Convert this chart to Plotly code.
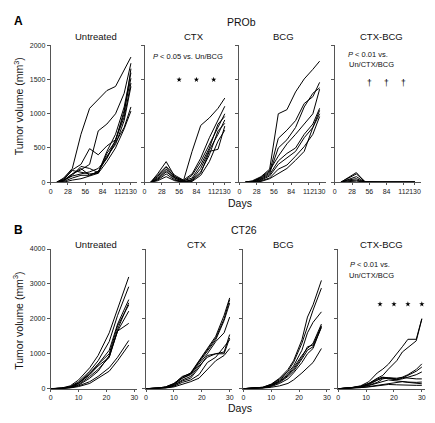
import plotly.graph_objects as go

W, H = 435, 423
FONT = "Liberation Sans, Arial, sans-serif"

# ---------------- Panel A (PROb) ----------------
days_A = [10, 21, 35, 49, 63, 77, 91, 105, 119, 130]
untreated_A = [
    [0, 60, 200, 700, 1080, 1210, 1340, 1400, 1650, 1830],
    [0, 30, 120, 180, 260, 750, 850, 1000, 1300, 1740],
    [0, 50, 180, 260, 490, 400, 530, 620, 1000, 1660],
    [0, 20, 100, 230, 200, 140, 450, 700, 1100, 1600],
    [0, 40, 170, 150, 120, 130, 420, 600, 1050, 1520],
    [0, 10, 60, 100, 100, 160, 350, 620, 950, 1450],
    [0, 20, 120, 200, 100, 150, 380, 550, 900, 1400],
    [0, 30, 90, 120, 150, 200, 350, 580, 800, 1100],
    [0, 0, 30, 50, 90, 130, 300, 500, 780, 1040],
]
ctx_A = [
    [0, 120, 300, 80, 20, 450, 830, 940, 1080, 1230],
    [0, 100, 230, 100, 30, 120, 350, 650, 900, 1110],
    [0, 80, 220, 60, 10, 100, 300, 550, 780, 1000],
    [0, 60, 190, 80, 20, 60, 250, 500, 850, 960],
    [0, 50, 170, 40, 0, 40, 200, 470, 700, 910],
    [0, 40, 150, 60, 10, 30, 150, 400, 750, 860],
    [0, 30, 120, 30, 0, 20, 130, 450, 480, 820],
    [0, 20, 80, 20, 0, 10, 100, 300, 600, 760],
]
bcg_A = [
    [0, 20, 80, 190, 1000, 1060, 1320, 1510, 1650, 1770],
    [0, 10, 60, 150, 640, 760, 900, 1150, 1250, 1460],
    [0, 10, 50, 130, 500, 620, 800, 1100, 1300, 1380],
    [0, 10, 70, 170, 380, 560, 700, 850, 1000, 1360],
    [0, 0, 40, 110, 310, 420, 500, 700, 850, 1080],
    [0, 0, 30, 90, 260, 350, 450, 650, 800, 1000],
    [0, 0, 20, 60, 190, 250, 380, 520, 700, 960],
    [0, 0, 10, 50, 120, 200, 320, 450, 800, 1050],
]
ctxbcg_A = [
    [0, 60, 140, 0, 0, 0, 0, 0, 0, 0],
    [0, 50, 120, 10, 0, 0, 0, 0, 0, 0],
    [0, 40, 80, 0, 0, 0, 0, 0, 0, 0],
    [0, 30, 50, 0, 0, 0, 0, 0, 0, 0],
    [0, 20, 30, 0, 0, 0, 0, 0, 0, 0],
    [0, 10, 15, 0, 0, 0, 0, 0, 0, 0],
]
xticks_A = [0, 28, 56, 84, 112, 130]
yticks_A = [0, 500, 1000, 1500, 2000]
star_days_A = [56, 84, 112]
star_level_A = 1500
dagger_level_A = 1450

# ---------------- Panel B (CT26) ----------------
days_B_un = [0, 4, 7, 10, 14, 17, 21, 24, 28]
untreated_B = [
    [0, 20, 80, 250, 600, 950, 1600, 2300, 3200],
    [0, 15, 60, 200, 500, 800, 1350, 2100, 2920],
    [0, 10, 50, 170, 450, 700, 1100, 1850, 2550],
    [0, 10, 40, 150, 400, 650, 900, 1700, 2460],
    [0, 10, 50, 160, 420, 700, 1000, 1800, 2400],
    [0, 10, 40, 120, 350, 550, 900, 1650, 2220],
    [0, 5, 30, 100, 300, 500, 950, 1650, 1870],
    [0, 5, 30, 80, 200, 350, 600, 900, 1380],
    [0, 5, 20, 60, 150, 300, 500, 800, 1250],
]
days_B_ctx = [0, 4, 7, 10, 13, 16, 19, 22, 25, 28, 30]
ctx_B = [
    [0, 15, 50, 150, 330, 450, 800, 1150, 1500, 2100, 2600],
    [0, 15, 50, 140, 350, 430, 780, 1100, 1450, 2000, 2550],
    [0, 10, 40, 130, 300, 420, 750, 1080, 1400, 1950, 2450],
    [0, 10, 40, 120, 300, 400, 700, 1000, 1350, 1600, 2050],
    [0, 10, 30, 100, 250, 350, 650, 900, 1000, 1050, 1550],
    [0, 10, 30, 90, 220, 300, 600, 950, 1000, 1000, 1450],
    [0, 5, 20, 70, 180, 250, 400, 750, 900, 1200, 1400],
    [0, 5, 20, 50, 120, 200, 300, 550, 800, 950, 1150],
]
days_B_bcg = [0, 4, 7, 10, 13, 16, 18, 21, 23, 25, 28]
bcg_B = [
    [0, 15, 40, 130, 300, 550, 800, 1400, 2050, 2400, 3100],
    [0, 15, 40, 120, 280, 500, 750, 1300, 1800, 2250, 2880],
    [0, 10, 30, 110, 250, 450, 650, 1100, 1600, 1900, 2200],
    [0, 10, 30, 100, 220, 400, 600, 950, 1150, 1300, 1850],
    [0, 10, 30, 90, 200, 380, 550, 900, 1200, 1250, 1800],
    [0, 10, 25, 80, 180, 350, 500, 850, 1100, 1200, 1750],
    [0, 5, 20, 60, 150, 280, 450, 750, 1000, 1150, 1780],
    [0, 5, 15, 40, 80, 150, 250, 450, 600, 750, 1150],
]
days_B_cb = [0, 4, 8, 11, 14, 16, 18, 21, 23, 25, 28, 30]
ctxbcg_B = [
    [0, 20, 80, 200, 450, 560, 700, 990, 1200, 1414, 1414, 2008],
    [0, 20, 70, 150, 300, 380, 560, 800, 1050, 1180, 1370, 1990],
    [0, 15, 60, 150, 280, 330, 310, 280, 330, 400, 550, 710],
    [0, 15, 60, 140, 250, 300, 290, 250, 300, 380, 500, 620],
    [0, 15, 50, 120, 230, 320, 300, 260, 280, 320, 400, 480],
    [0, 10, 50, 100, 180, 280, 310, 300, 320, 300, 280, 280],
    [0, 10, 40, 90, 150, 200, 250, 220, 200, 190, 180, 190],
    [0, 10, 30, 60, 100, 120, 150, 180, 200, 180, 150, 140],
    [0, 10, 30, 50, 80, 100, 120, 110, 100, 100, 95, 95],
]
xticks_B = [0, 10, 20, 30]
yticks_B = [0, 1000, 2000, 3000, 4000]
star_days_B = [15, 20, 25, 30]
star_level_B = 2420

group_names = ["Untreated", "CTX", "BCG", "CTX-BCG"]

# ---------------- layout geometry (pixels, page coordinates) ----------------
OFF = 8  # default page body margin in the browser


def fx(x):
    return (x - OFF) / W


def fy(y):
    return 1 - (y - OFF) / H


PW = 87
starts_A = [49, 143.5, 239, 335]
starts_B = [49, 145, 243, 338.5]
ydom_A = [fy(181), fy(42)]
ydom_B = [fy(391), fy(249)]

fig = go.Figure()
layout = dict(
    width=W, height=H,
    margin=dict(l=0, r=0, t=0, b=0),
    plot_bgcolor="white", paper_bgcolor="white",
    showlegend=False,
    font=dict(family=FONT, size=8, color="#222"),
)

AX = dict(showgrid=False, zeroline=False, showline=True, linecolor="#555",
          linewidth=1, ticks="outside", ticklen=3, tickwidth=1, tickcolor="#555",
          tickangle=0, tickfont=dict(family=FONT, size=7, color="#222"), fixedrange=True)


def add_panel(idx, xs, series, x0, xrange_, ydom, xticks, yticks, yrange, showy):
    name = "" if idx == 1 else str(idx)
    layout["xaxis" + name] = dict(AX, domain=[fx(x0), fx(x0 + PW)], range=xrange_,
                                  anchor="y" + name, tickmode="array", tickvals=xticks,
                                  ticktext=[str(t) for t in xticks], ticklen=2)
    layout["yaxis" + name] = dict(AX, domain=ydom, range=yrange, anchor="x" + name,
                                  tickmode="array", tickvals=yticks, showticklabels=showy)
    for s in series:
        fig.add_trace(go.Scatter(x=xs, y=s, mode="lines", xaxis="x" + name, yaxis="y" + name,
                                 line=dict(color="black", width=1), hoverinfo="skip"))


A_series = [untreated_A, ctx_A, bcg_A, ctxbcg_A]
for i in range(4):
    add_panel(i + 1, days_A, A_series[i], starts_A[i], [0, 140], ydom_A,
              xticks_A, yticks_A, [0, 2000], i == 0)

B_days = [days_B_un, days_B_ctx, days_B_bcg, days_B_cb]
B_series = [untreated_B, ctx_B, bcg_B, ctxbcg_B]
for i in range(4):
    add_panel(i + 5, B_days[i], B_series[i], starts_B[i], [0, 31], ydom_B,
              xticks_B, yticks_B, [0, 4000], i == 0)

# stars
fig.add_trace(go.Scatter(x=star_days_A, y=[star_level_A] * 3, mode="markers", xaxis="x2", yaxis="y2",
                         marker=dict(symbol="star", size=4, color="black"), hoverinfo="skip"))
fig.add_trace(go.Scatter(x=star_days_B, y=[star_level_B] * 4, mode="markers", xaxis="x8", yaxis="y8",
                         marker=dict(symbol="star", size=4, color="black"), hoverinfo="skip",
                         cliponaxis=False))

fig.update_layout(**layout)

# daggers (text in data coordinates of the CTX-BCG panel)
for d in star_days_A:
    fig.add_annotation(text="†", x=d, y=dagger_level_A, xref="x4", yref="y4",
                       showarrow=False, xanchor="center", yanchor="middle",
                       font=dict(family=FONT, size=8.5, color="black"))


def ann(text, x, y, size, bold=False, angle=0, color="#111"):
    t = "<b>%s</b>" % text if bold else text
    fig.add_annotation(text=t, x=fx(x), y=fy(y), xref="paper", yref="paper",
                       showarrow=False, xanchor="center", yanchor="middle",
                       textangle=angle, font=dict(family=FONT, size=size, color=color))


ann("A", 17, 17, 12, bold=True, color="black")
ann("B", 17, 229.5, 12, bold=True, color="black")
ann("PROb", 241.5, 18.5, 10.5)
ann("CT26", 243.5, 230, 10.5)
ann("Days", 240, 202.5, 10.5)
ann("Days", 240, 411, 10.5)
ann("Tumor volume (mm<sup>3</sup>)", 16, 104, 10.5, angle=-90)
ann("Tumor volume (mm<sup>3</sup>)", 16, 322, 10.5, angle=-90)

titles_x_A = [95, 193, 283, 382]
titles_x_B = [95, 196.5, 283.5, 382.5]
for i, g in enumerate(group_names):
    ann(g, titles_x_A[i], 32.5, 9.5)
    ann(g, titles_x_B[i], 244, 9.5)

ann("<i>P</i> < 0.05 vs. Un/BCG", 187.5, 53, 7.5)
ann("<i>P</i> < 0.01 vs.", 368.5, 51, 7.5)
ann("Un/CTX/BCG", 372, 61, 7.5)
ann("<i>P</i> < 0.01 vs.", 371, 265, 7.5)
ann("Un/CTX/BCG", 372, 275.5, 7.5)

fig.write_html("out.html")
